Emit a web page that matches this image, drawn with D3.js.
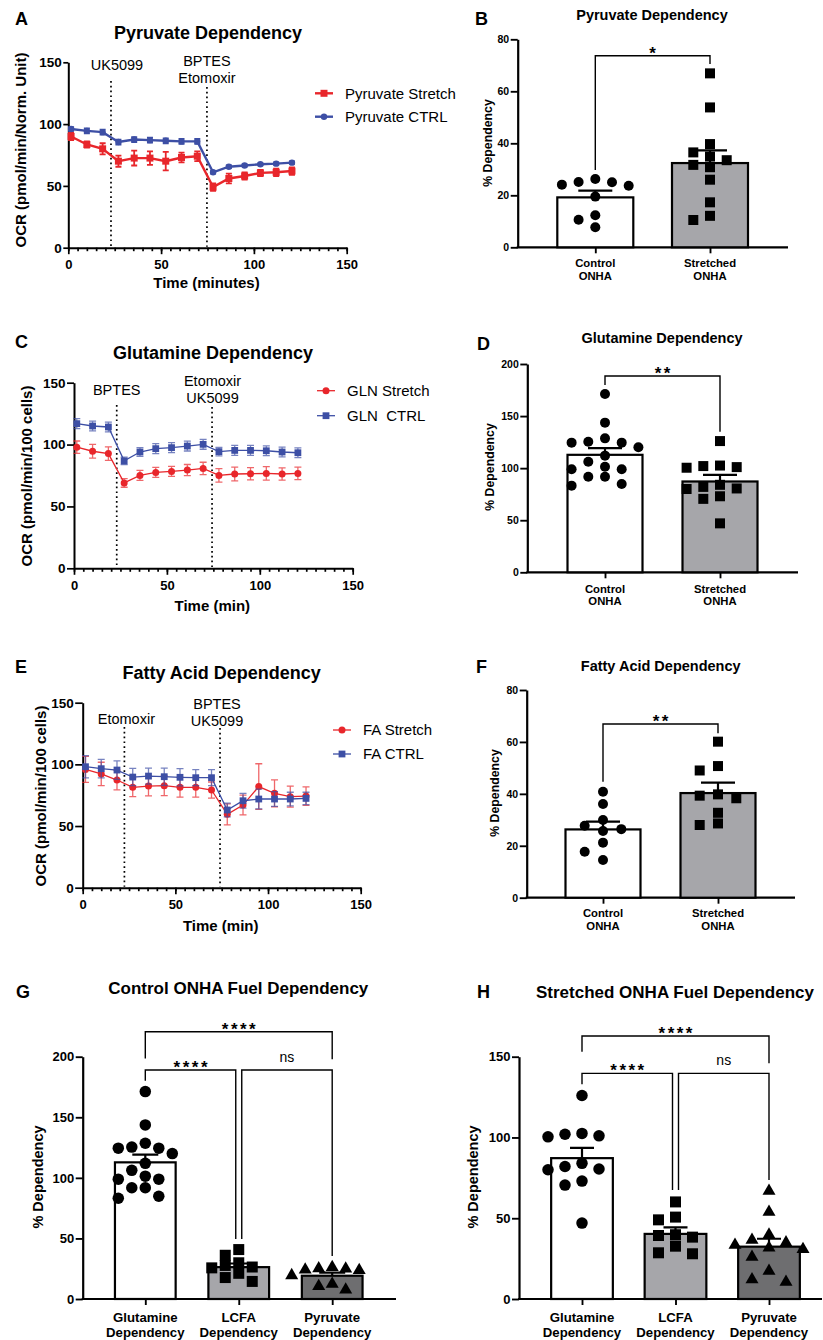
<!DOCTYPE html>
<html>
<head>
<meta charset="utf-8">
<script src="https://cdn.jsdelivr.net/npm/d3@7"></script>
<style>
  body { margin: 0; background: #fff; }
  svg { display: block; }
  svg text { white-space: pre; }
</style>
</head>
<body>
<div id="fig"></div>
<script>
// ---- time course data (Seahorse measurement times, minutes) ----
const timeMin = [1.5, 10, 18.5, 27, 35.5, 44, 52.5, 61, 69.5, 78, 86.5, 95, 103.5, 112, 120.5];

const pyrStretch    = [90, 83.5, 80, 70, 72.5, 72.5, 70, 73, 74, 49, 56, 58, 60.5, 61, 62];
const pyrStretchErr = [3, 2.5, 4.5, 4.5, 6, 5.5, 7.5, 4, 4, 3, 4, 3, 2.5, 3, 3];
const pyrCtrl       = [96, 94.5, 93.5, 85.5, 87.5, 87, 86.5, 86, 86, 61, 65.5, 66.5, 67.5, 68, 68.8];
const pyrCtrlErr    = [1.5, 2, 2, 2, 2, 2, 2, 2, 2, 1, 1, 0.8, 0.8, 1, 1];

const glnStretch    = [97.9, 94.6, 92.7, 69, 75.1, 77.5, 78.3, 79.4, 80.7, 75.1, 76.2, 76.4, 76.7, 76.2, 76.7];
const glnStretchErr = [5, 5.5, 5.5, 3.5, 4, 4, 4, 4.5, 5, 5.5, 5.5, 5, 5.5, 5, 5];
const glnCtrl       = [116.9, 115, 114.2, 86.8, 94, 96.7, 97.5, 98.8, 100.2, 94.3, 95.3, 95.3, 95, 94, 93.4];
const glnCtrlErr    = [4, 4, 4, 3, 3.5, 4, 4, 4, 4, 3.5, 4, 4, 4, 4, 4];

const faStretch     = [95.9, 92.2, 87.3, 81.4, 82.4, 82.7, 81.4, 81.4, 79.2, 59.5, 67, 82, 76.5, 73.8, 74.3];
const faStretchErr  = [10.5, 9.5, 8, 7.5, 8, 8, 8, 8, 6.5, 8.5, 8, 18.5, 11, 8.5, 7.5];
const faCtrl        = [98.1, 96.5, 95.4, 89.7, 90.5, 90, 89.5, 89.2, 89.2, 63, 70.5, 71.9, 71.9, 71.9, 72.4];
const faCtrlErr     = [9, 7.5, 7.5, 7, 6.5, 7, 7, 6.5, 6.5, 5.5, 6, 8, 6, 5.5, 5];

// injections
const pyrInjTimes = [23, 74.7];  const pyrInjLabels = [["UK5099"], ["BPTES", "Etomoxir"]];
const glnInjTimes = [23, 74.3];  const glnInjLabels = [["BPTES"], ["Etomoxir", "UK5099"]];
const faInjTimes  = [22.5, 74.1]; const faInjLabels = [["Etomoxir"], ["BPTES", "UK5099"]];

// ---- % dependency, individual wells ----
const pyrDepCtrl = [25, 23.7, 25.1, 26.3, 24.1, 19.5, 12.3, 10.6, 7.7];
const pyrDepStr  = [66.9, 53.8, 39.7, 36.5, 33.5, 34.9, 30.8, 31.7, 26, 17.3, 10.5, 12.1];
const glnDepCtrl = [171.2, 143.7, 124.5, 125.4, 128.6, 124.5, 120, 112, 98.9, 101.4, 106.2, 98.9, 91.8, 91.8, 84.8, 83.2];
const glnDepStr  = [126, 101, 100.4, 102, 102.5, 84, 82, 80, 80.5, 73, 70.5, 47];
const faDepCtrl  = [40.8, 36.1, 29.9, 26.4, 27.7, 25.7, 21.2, 17.7, 14.5];
const faDepStr   = [60.1, 50.7, 49, 39.3, 38.3, 39.8, 32.7, 28, 28.6];

// bar heights (mean) and SEM, [control, stretched]
const pyrDepMean = [19.2, 32.4]; const pyrDepSem = [2.6, 4.9];
const glnDepMean = [112.8, 87.2]; const glnDepSem = [6.4, 6.3];
const faDepMean  = [26.3, 40.3]; const faDepSem  = [3.0, 4.0];

const twoGroups  = ["Control\nONHA", "Stretched\nONHA"];
const fuelGroups = ["Glutamine\nDependency", "LCFA\nDependency", "Pyruvate\nDependency"];

// significance brackets: [left leg end, top, right leg end] in % units
const pyrSig = { text: "*",  b: [29.7, 73.7, 70.5] };
const glnSig = { text: "**", b: [179.8, 188.5, 135] };
const faSig  = { text: "**", b: [44.7, 66.9, 63.3] };
const ctrlFuelSig = [
  { from: 0, to: 2, text: "****", b: [198.6, 220.6, 197.8] },
  { from: 0, to: 1, text: "****", b: [180.2, 189, 49.5] },
  { from: 1, to: 2, text: "ns",   b: [49.5, 189, 35.5] }
];
const strFuelSig = [
  { from: 0, to: 2, text: "****", b: [153, 162.8, 145.9] },
  { from: 0, to: 1, text: "****", b: [133, 139.7, 67.5] },
  { from: 1, to: 2, text: "ns",   b: [67.5, 139.7, 73.6] }
];

const FONT = "'Liberation Sans', Arial, Helvetica, sans-serif";
const RED = "#e8262b", BLUE = "#3d4fa5";
const LIGHT = "#a6a6aa", DARK = "#6e6e70";

const svg = d3.select("#fig").append("svg")
    .attr("width", 823)
    .attr("height", 1340)
    .attr("font-family", FONT);

function styleAxis(g, fs, lw) {
    g.attr("font-family", FONT).attr("font-size", fs).attr("font-weight", "bold");
    g.select(".domain").attr("stroke", "#000").attr("stroke-width", lw);
    g.selectAll(".tick line").attr("stroke", "#000").attr("stroke-width", lw * 0.85);
    g.selectAll(".tick text").attr("fill", "#000");
}

function symbolPath(shape, size) {
    const type = shape === "square" ? d3.symbolSquare : shape === "triangle" ? d3.symbolTriangle : d3.symbolCircle;
    // size given as visual width in px
    let area;
    if (shape === "square") area = size * size;
    else if (shape === "triangle") area = Math.sqrt(3) / 4 * size * size;
    else area = Math.PI * (size / 2) * (size / 2);
    return d3.symbol().type(type).size(area)();
}

function text(g, x, y, str, fs, weight, anchor) {
    return g.append("text")
        .attr("x", x).attr("y", y)
        .attr("font-size", fs)
        .attr("font-weight", weight || "normal")
        .attr("text-anchor", anchor || "start")
        .attr("fill", "#000")
        .text(str);
}

function vLabel(g, x, y, str, fs) {
    g.append("text")
        .attr("transform", `translate(${x},${y}) rotate(-90)`)
        .attr("dy", "0.35em")
        .attr("text-anchor", "middle")
        .attr("font-size", fs)
        .attr("font-weight", "bold")
        .text(str);
}

// ---------- time course panels ----------
function timePanel(o) {
    const g = svg.append("g");
    const x = d3.scaleLinear().domain([0, 150]).range([o.x0, o.x1]);
    const y = d3.scaleLinear().domain([0, 150]).range([o.y0, o.y1]);

    const minor = g.append("g")
        .attr("transform", `translate(0,${o.y0})`)
        .call(d3.axisBottom(x).tickValues(d3.range(0, 151, 5)).tickSize(3.5).tickSizeOuter(0).tickFormat(""));
    styleAxis(minor, 13, 2);
    const major = g.append("g")
        .attr("transform", `translate(0,${o.y0})`)
        .call(d3.axisBottom(x).tickValues([0, 50, 100, 150]).tickSize(6.5).tickSizeOuter(0).tickPadding(5.5));
    styleAxis(major, 13, 2);
    major.select(".domain").remove();

    const ya = g.append("g")
        .attr("transform", `translate(${o.x0},0)`)
        .call(d3.axisLeft(y).tickValues([0, 50, 100, 150]).tickSize(o.ytick).tickSizeOuter(0).tickPadding(1.5));
    styleAxis(ya, 13.5, 2);

    // injection lines
    o.injTimes.forEach((t, i) => {
        g.append("line")
            .attr("x1", x(t)).attr("x2", x(t))
            .attr("y1", o.lineTop[i]).attr("y2", o.y0 - 1)
            .attr("stroke", "#000").attr("stroke-width", 1.7)
            .attr("stroke-dasharray", "1.7,3.1");
        const labels = o.injLabels[i];
        labels.forEach((lab, j) => {
            const by = o.labelBase[i] - (labels.length - 1 - j) * o.labelGap;
            text(g, x(t) + o.labelDx[i], by, lab, 14.5, "normal", "middle");
        });
    });

    o.series.forEach(s => {
        const pts = timeMin.map((t, i) => ({ t: t, v: s.v[i], e: s.e[i] }));
        const c = o.cap / 2;
        g.append("g").selectAll("path")
            .data(pts)
            .join("path")
            .attr("d", d => `M${x(d.t) - c},${y(d.v + d.e)}h${o.cap}M${x(d.t)},${y(d.v + d.e)}V${y(d.v - d.e)}M${x(d.t) - c},${y(d.v - d.e)}h${o.cap}`)
            .attr("fill", "none")
            .attr("stroke", s.color)
            .attr("stroke-opacity", o.errOpacity)
            .attr("stroke-width", o.errW);
        g.append("path")
            .datum(pts)
            .attr("fill", "none")
            .attr("stroke", s.color)
            .attr("stroke-width", o.lineW)
            .attr("d", d3.line().x(d => x(d.t)).y(d => y(d.v)));
        g.append("g").selectAll("path")
            .data(pts)
            .join("path")
            .attr("transform", d => `translate(${x(d.t)},${y(d.v)})`)
            .attr("d", symbolPath(s.shape, o.mk[s.shape]))
            .attr("fill", s.color);
    });

    // legend
    o.series.forEach((s, i) => {
        const ly = o.legY[i];
        g.append("line")
            .attr("x1", o.legX).attr("x2", o.legX + 18)
            .attr("y1", ly).attr("y2", ly)
            .attr("stroke", s.color).attr("stroke-width", o.lineW);
        g.append("path")
            .attr("transform", `translate(${o.legX + 9},${ly})`)
            .attr("d", symbolPath(s.shape, o.mk[s.shape]))
            .attr("fill", s.color);
        text(g, o.legX + 30, ly + 5.3, s.name, 15);
    });

    text(g, (o.x0 + o.x1) / 2 - 1, o.xLabY, o.xLabel, 15, "bold", "middle");
    vLabel(g, o.yLabX, o.yLabY, o.yLabel, 15);
    text(g, o.titleX, o.titleY, o.title, 18, "bold", "middle");
    text(g, o.letterX, o.letterY, o.letter, 18, "bold");
}

// simple column swarm so that markers do not sit on top of each other
function swarm(values, y, slot, d) {
    const placed = [];
    const off = new Array(values.length).fill(0);
    const order = values.map((v, i) => i).sort((a, b) => values[b] - values[a]);
    const cands = [0];
    for (let k = 0.5; k <= 4; k += 0.5) cands.push(-k, k);
    order.forEach(i => {
        const py = y(values[i]);
        for (const c of cands) {
            const px = c * slot;
            const hit = placed.some(p => Math.abs(p.x - px) < d * 0.92 && Math.abs(p.y - py) < d * 0.92);
            if (!hit) { placed.push({ x: px, y: py }); off[i] = px; break; }
        }
    });
    return off;
}

// ---------- dot + bar panels ----------
function barPanel(o) {
    const g = svg.append("g");
    const y = d3.scaleLinear().domain([0, o.yMax]).range([o.y0, o.y1]);
    const x = d3.scalePoint().domain(o.cats).range([o.c0, o.c1]);

    const ya = g.append("g")
        .attr("transform", `translate(${o.ax},0)`)
        .call(d3.axisLeft(y).tickValues(d3.range(0, o.yMax + 1, o.step)).tickSize(o.ytick).tickSizeOuter(0).tickPadding(1.5));
    styleAxis(ya, o.tickFs, 2.2);

    g.append("line")
        .attr("x1", o.ax - 1).attr("x2", o.xEnd)
        .attr("y1", o.y0).attr("y2", o.y0)
        .attr("stroke", "#000").attr("stroke-width", 2.2);
    const xa = g.append("g")
        .attr("transform", `translate(0,${o.y0})`)
        .call(d3.axisBottom(x).tickSize(6).tickSizeOuter(0).tickFormat(""));
    styleAxis(xa, o.tickFs, 2.2);
    xa.select(".domain").remove();

    o.cats.forEach((cat, i) => {
        const cx = x(cat);
        const top = y(o.means[i]);
        g.append("rect")
            .attr("x", cx - o.bw / 2).attr("y", top)
            .attr("width", o.bw).attr("height", o.y0 - top)
            .attr("fill", o.fills[i])
            .attr("stroke", "#000").attr("stroke-width", 2.2);
    });

    o.cats.forEach((cat, i) => {
        const cx = x(cat);
        const vals = o.points[i];
        const size = o.mk[o.shapes[i]];
        const off = swarm(vals, y, o.slot, size);
        g.append("g").selectAll("path")
            .data(vals)
            .join("path")
            .attr("transform", (v, j) => `translate(${cx + off[j]},${y(v)})`)
            .attr("d", symbolPath(o.shapes[i], size))
            .attr("fill", "#000");
    });

    o.cats.forEach((cat, i) => {
        const cx = x(cat);
        const cw = o.capW / 2;
        g.append("path")
            .attr("d", `M${cx},${y(o.means[i])}V${y(o.means[i] + o.sems[i])}M${cx - cw},${y(o.means[i] + o.sems[i])}h${o.capW}`)
            .attr("fill", "none")
            .attr("stroke", "#000").attr("stroke-width", 2.2);
        const lines = cat.split("\n");
        lines.forEach((l, j) => text(g, cx, o.y0 + o.catDy[j], l, o.catFs, "bold", "middle"));
    });

    o.sig.forEach(s => {
        const xl = x(o.cats[s.from]) + (s.padL || 0);
        const xr = x(o.cats[s.to]) + (s.padR || 0);
        g.append("path")
            .attr("d", `M${xl},${y(s.b[0])}V${y(s.b[1])}H${xr}V${y(s.b[2])}`)
            .attr("fill", "none")
            .attr("stroke", "#000").attr("stroke-width", 1.4);
        const t = text(g, (xl + xr) / 2, y(s.b[1]) + (s.text === "ns" ? -8 : 3), s.text,
            s.text === "ns" ? 14 : 17, s.text === "ns" ? "normal" : "bold", "middle");
        if (s.text !== "ns") t.attr("letter-spacing", 2.5).attr("dx", 1.25);
    });

    vLabel(g, o.yLabX, o.yLabY, "% Dependency", o.yLabFs);
    text(g, o.titleX, o.titleY, o.title, o.titleFs, "bold", "middle");
    text(g, o.letterX, o.letterY, o.letter, 18, "bold");
}

// ---------- panel A, C, E ----------
timePanel({
    letter: "A", letterX: 15, letterY: 25, title: "Pyruvate Dependency", titleX: 208, titleY: 38.5,
    x0: 68.3, x1: 346.7, y0: 247.7, y1: 62.3, ytick: 5,
    xLabel: "Time (minutes)", xLabY: 288, yLabel: "OCR (pmol/min/Norm. Unit)", yLabX: 21, yLabY: 150,
    injTimes: pyrInjTimes, injLabels: pyrInjLabels, lineTop: [81, 87], labelBase: [70, 83.3], labelGap: 17.6, labelDx: [6, 0],
    series: [
        { name: "Pyruvate Stretch", v: pyrStretch, e: pyrStretchErr, color: RED, shape: "square" },
        { name: "Pyruvate CTRL", v: pyrCtrl, e: pyrCtrlErr, color: BLUE, shape: "circle" }
    ],
    mk: { square: 7, circle: 6.4 }, lineW: 2.4, errW: 1.8, errOpacity: 1, cap: 6,
    legX: 315, legY: [93.3, 116.7]
});

timePanel({
    letter: "C", letterX: 15, letterY: 348, title: "Glutamine Dependency", titleX: 213, titleY: 359,
    x0: 74, x1: 352.7, y0: 568.3, y1: 382.7, ytick: 7,
    xLabel: "Time (min)", xLabY: 611, yLabel: "OCR (pmol/min/100 cells)", yLabX: 26.5, yLabY: 476,
    injTimes: glnInjTimes, injLabels: glnInjLabels, lineTop: [405, 407], labelBase: [395, 403.3], labelGap: 17.3, labelDx: [0, 0.5],
    series: [
        { name: "GLN Stretch", v: glnStretch, e: glnStretchErr, color: RED, shape: "circle" },
        { name: "GLN  CTRL", v: glnCtrl, e: glnCtrlErr, color: BLUE, shape: "square" }
    ],
    mk: { square: 6.8, circle: 7 }, lineW: 1.3, errW: 1.3, errOpacity: 0.7, cap: 7,
    legX: 317, legY: [390.7, 415.7]
});

timePanel({
    letter: "E", letterX: 15, letterY: 673, title: "Fatty Acid Dependency", titleX: 221.7, titleY: 679,
    x0: 82.7, x1: 360.7, y0: 887.7, y1: 702.7, ytick: 7.5,
    xLabel: "Time (min)", xLabY: 931, yLabel: "OCR (pmol/min/100 cells)", yLabX: 41, yLabY: 796,
    injTimes: faInjTimes, injLabels: faInjLabels, lineTop: [727, 728], labelBase: [724.3, 726], labelGap: 16.7, labelDx: [2, -3],
    series: [
        { name: "FA Stretch", v: faStretch, e: faStretchErr, color: RED, shape: "circle" },
        { name: "FA CTRL", v: faCtrl, e: faCtrlErr, color: BLUE, shape: "square" }
    ],
    mk: { square: 6.8, circle: 7 }, lineW: 1.3, errW: 1.3, errOpacity: 0.7, cap: 7,
    legX: 333, legY: [730, 754]
});

// ---------- panel B, D, F ----------
const twoCommon = { bw: 76, capW: 34, slot: 16.7, mk: { circle: 10, square: 10 },
    shapes: ["circle", "square"], fills: ["#fff", LIGHT], tickFs: 10.5, catFs: 11.3, yLabFs: 12.3, titleFs: 14.5 };

barPanel(Object.assign({}, twoCommon, {
    letter: "B", letterX: 475, letterY: 25, title: "Pyruvate Dependency", titleX: 652, titleY: 20,
    ax: 517.7, y0: 247.3, y1: 39.3, yMax: 80, step: 20, ytick: 7, xEnd: 788, c0: 595.3, c1: 710,
    cats: twoGroups, means: pyrDepMean, sems: pyrDepSem, points: [pyrDepCtrl, pyrDepStr],
    sig: [{ from: 0, to: 1, text: pyrSig.text, b: pyrSig.b }], catDy: [19.4, 32.7], yLabX: 488, yLabY: 143
}));

barPanel(Object.assign({}, twoCommon, {
    letter: "D", letterX: 477, letterY: 350, title: "Glutamine Dependency", titleX: 662, titleY: 343,
    ax: 527.3, y0: 572.3, y1: 364, yMax: 200, step: 50, ytick: 7, xEnd: 798, c0: 605, c1: 720, bw: 75,
    cats: twoGroups, means: glnDepMean, sems: glnDepSem, points: [glnDepCtrl, glnDepStr],
    sig: [{ from: 0, to: 1, text: glnSig.text, b: glnSig.b }], catDy: [20.4, 32.7], yLabX: 490, yLabY: 467
}));

barPanel(Object.assign({}, twoCommon, {
    letter: "F", letterX: 476, letterY: 673, title: "Fatty Acid Dependency", titleX: 660.7, titleY: 670.7,
    ax: 526.7, y0: 897.7, y1: 690, yMax: 80, step: 20, ytick: 7, xEnd: 795, c0: 603, c1: 718, bw: 75, slot: 18.3,
    cats: twoGroups, means: faDepMean, sems: faDepSem, points: [faDepCtrl, faDepStr],
    sig: [{ from: 0, to: 1, text: faSig.text, b: faSig.b }], catDy: [19.6, 32.3], yLabX: 495, yLabY: 793
}));

// ---------- panel G, H ----------
const fuelCommon = { mk: { circle: 11.5, square: 11, triangle: 13 }, shapes: ["circle", "square", "triangle"],
    fills: ["#fff", LIGHT, DARK], tickFs: 13, catFs: 13.2, yLabFs: 14.5, titleFs: 17, catDy: [22.7, 37.7] };

barPanel(Object.assign({}, fuelCommon, {
    letter: "G", letterX: 16, letterY: 998, title: "Control ONHA Fuel Dependency", titleX: 238.3, titleY: 994,
    ax: 82.7, y0: 1299, y1: 1056.7, yMax: 200, step: 50, ytick: 7, xEnd: 396, c0: 145.3, c1: 332.2, bw: 60.7,
    capW: 26, slot: 13.5,
    cats: fuelGroups, means: [glnDepMean[0], faDepMean[0], pyrDepMean[0]], sems: [glnDepSem[0], faDepSem[0], pyrDepSem[0]],
    points: [glnDepCtrl, faDepCtrl, pyrDepCtrl],
    sig: ctrlFuelSig.map(s => Object.assign({}, s, { padL: s.from === 1 ? 3 : 0, padR: s.to === 1 ? -3 : 0 })),
    yLabX: 38.3, yLabY: 1177
}));

barPanel(Object.assign({}, fuelCommon, {
    letter: "H", letterX: 477, letterY: 998, title: "Stretched ONHA Fuel Dependency", titleX: 675, titleY: 998,
    ax: 519, y0: 1299, y1: 1056.7, yMax: 150, step: 50, ytick: 7, xEnd: 822, c0: 582, c1: 769, bw: 61.7,
    capW: 24, slot: 17,
    cats: fuelGroups, means: [glnDepMean[1], faDepMean[1], pyrDepMean[1]], sems: [glnDepSem[1], faDepSem[1], pyrDepSem[1]],
    points: [glnDepStr, faDepStr, pyrDepStr],
    sig: strFuelSig.map(s => Object.assign({}, s, { padL: s.from === 1 ? 3 : 0, padR: s.to === 1 ? -3 : 0 })),
    yLabX: 473.3, yLabY: 1177
}));
</script>
</body>
</html>
